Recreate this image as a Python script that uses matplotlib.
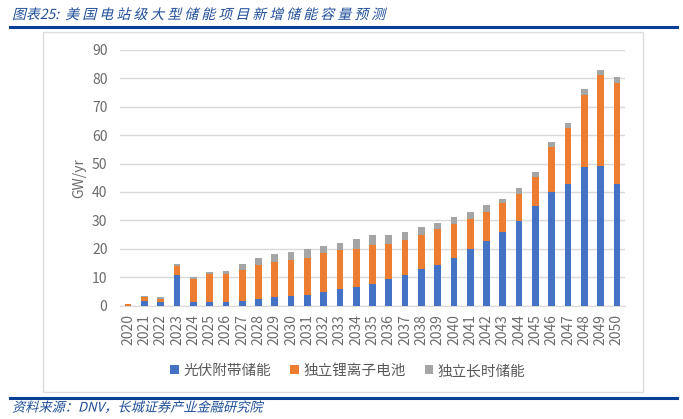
import matplotlib
matplotlib.use('Agg')
import matplotlib.pyplot as plt
import numpy as np
from matplotlib.patches import Rectangle
from matplotlib.lines import Line2D
from matplotlib.patheffects import AbstractPathEffect
from matplotlib.transforms import Affine2D

plt.rcParams['font.family'] = ['Noto Sans CJK SC', 'DejaVu Sans']

# data, GW/yr
years = [str(y) for y in range(2020, 2051)]
pv_paired = [0, 1.5, 1.1, 10.7, 1.1, 1.1, 1.1, 1.5, 2.4, 2.9, 3.4, 3.7, 4.9, 5.7, 6.5, 7.7,
             9.2, 10.9, 12.8, 14.4, 16.7, 19.8, 22.8, 26.0, 29.9, 35.2, 40.0, 42.9, 48.8, 49.3, 42.9]
li_ion = [0.5, 1.4, 1.3, 3.2, 8.2, 10.0, 10.0, 11.1, 11.8, 12.4, 12.6, 12.9, 13.6, 13.7, 13.3, 13.5,
          12.3, 12.1, 11.9, 12.5, 11.9, 10.6, 10.3, 10.0, 9.5, 10.1, 15.9, 19.5, 25.2, 31.8, 35.3]
long_dur = [0.1, 0.5, 0.5, 0.6, 0.7, 0.7, 1.2, 1.9, 2.4, 2.7, 2.8, 3.2, 2.3, 2.7, 3.6, 3.5,
            3.2, 3.0, 2.8, 2.3, 2.4, 2.4, 2.4, 1.6, 2.0, 1.8, 1.7, 1.8, 2.2, 1.7, 2.3]
series_names = ['光伏附带储能', '独立锂离子电池', '独立长时储能']
colors = ['#4472C4', '#ED7D31', '#A5A5A5']

title = '图表25:  美 国 电 站 级 大 型 储 能 项 目 新 增 储 能 容 量 预 测'
source = '资料来源：DNV，长城证券产业金融研究院'


class Slant(AbstractPathEffect):
    # fake italic for the CJK font, which has no italic face
    def draw_path(self, renderer, gc, tpath, affine, rgbFace=None):
        renderer.draw_path(gc, tpath, Affine2D().skew_deg(14, 0) + affine, rgbFace)


W, H = 683, 419
fig = plt.figure(figsize=(6.83, 4.19), dpi=100)
ax = fig.add_axes([120 / W, 1 - 305.5 / H, 505 / W, 255.5 / H])

x = np.arange(len(years))
pv = np.array(pv_paired)
li = np.array(li_ion)
ld = np.array(long_dur)
w = 0.41
ax.bar(x, pv, w, color=colors[0], label=series_names[0], zorder=3)
ax.bar(x, li, w, bottom=pv, color=colors[1], label=series_names[1], zorder=3)
ax.bar(x, ld, w, bottom=pv + li, color=colors[2], label=series_names[2], zorder=3)

ax.set_xlim(-0.5, len(years) - 0.5)
ax.set_ylim(0, 90)
ax.set_yticks(range(0, 91, 10))
ax.set_xticks(x)
ax.set_xticklabels(years, rotation=90)
ax.grid(axis='y', color='#d9d9d9', lw=1, zorder=0)
for s in ['top', 'right', 'left']:
    ax.spines[s].set_visible(False)
ax.spines['bottom'].set_color('#d9d9d9')
ax.tick_params(axis='both', length=0, labelsize=10, colors='#6b6b6b')
ax.tick_params(axis='y', pad=9)
ax.tick_params(axis='x', pad=6)
ax.set_ylabel('GW/yr', fontsize=10, color='#6b6b6b', labelpad=4)

ax.legend(loc='center', bbox_to_anchor=(348 / W, 1 - 371 / H), bbox_transform=fig.transFigure,
          ncol=3, frameon=False, fontsize=10.5, handlelength=0.6, handleheight=0.6,
          handletextpad=0.3, columnspacing=1.3, labelcolor='#595959')

# chart frame
fig.add_artist(Rectangle((43 / W, 1 - 392 / H), 600 / W, 360 / H, transform=fig.transFigure,
                         fill=False, edgecolor='#dcdcdc', lw=1))

# header / footer
blue = '#0A3F96'
fig.add_artist(Line2D([10 / W, 677 / W], [1 - 27.5 / H] * 2, color=blue, lw=2.2))
fig.add_artist(Line2D([10 / W, 677 / W], [1 - 397.5 / H] * 2, color=blue, lw=2.2))
fig.text(12 / W, 1 - 15 / H, title, fontsize=10, color='#1F4E9A', va='center',
         path_effects=[Slant()])
fig.text(12 / W, 1 - 408 / H, source, fontsize=9.5, color='#1F4E9A', va='center',
         path_effects=[Slant()])

fig.savefig('out.png', dpi=100)
